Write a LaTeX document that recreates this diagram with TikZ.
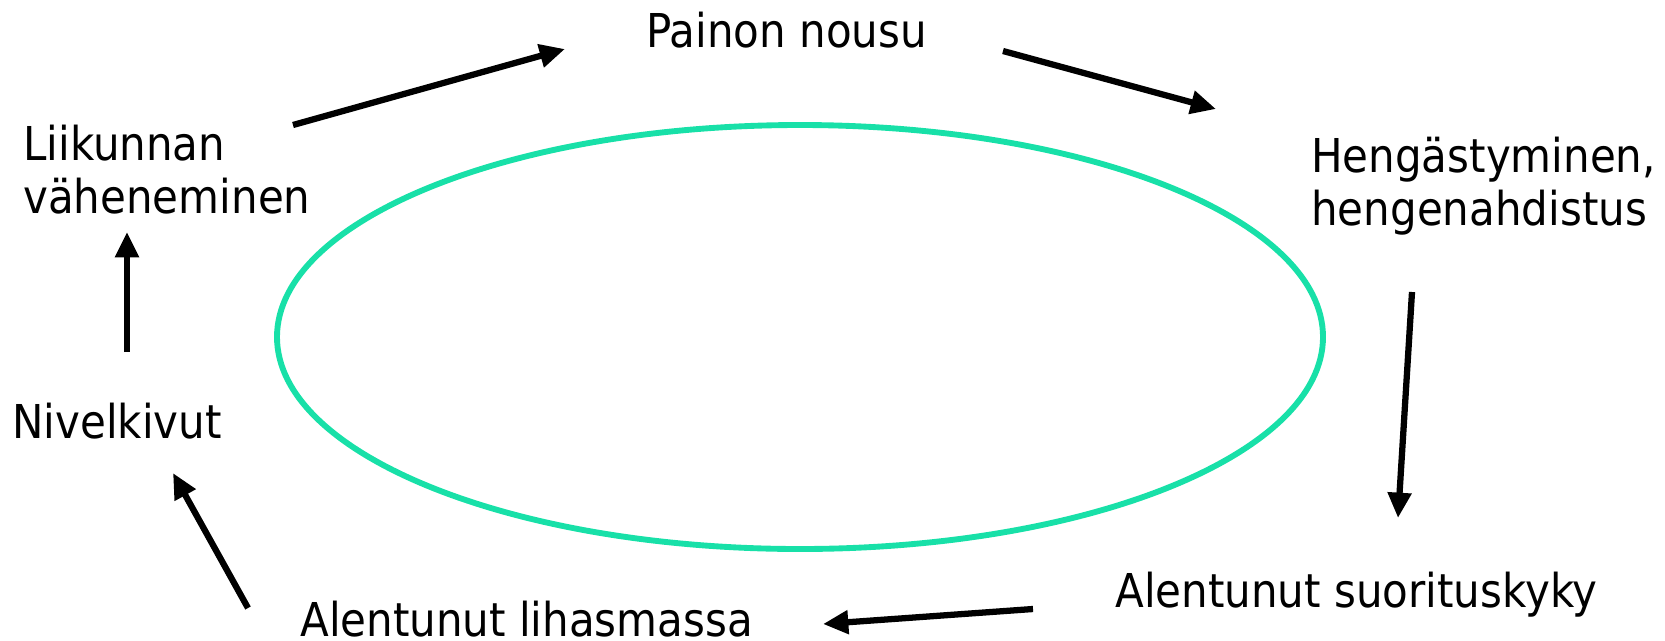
\documentclass[tikz,border=0pt]{standalone}
\usepackage{fontspec}
\setmainfont[FakeStretch=0.9]{DejaVu Sans}
\usetikzlibrary{arrows.meta}
\definecolor{ringgreen}{RGB}{24,224,168}
\tikzset{
  label/.style={anchor=base west, inner sep=0pt, align=left,
    font=\fontsize{35}{39.5}\selectfont},
  flow/.style={line width=4.7pt, -{Triangle[length=19pt,width=17pt]}},
  ring/.style={draw=ringgreen, line width=4.4pt}
}
\begin{document}
\begin{tikzpicture}[x=0.75pt, y=-0.75pt]
  \useasboundingbox (0,0) rectangle (1665,640);

  % central cycle ring
  \draw[ring] (800,337) ellipse [x radius=523, y radius=212];

  % stages of the cycle (multi-line labels are placed by their last line)
  \node[label] (paino) at (646,47) {Painon nousu};
  \node[label] (henga) at (1311,225) {Hengästyminen,\\hengenahdistus};
  \node[label] (suor)  at (1115,607) {Alentunut suorituskyky};
  \node[label] (lihas) at (300,636) {Alentunut lihasmassa};
  \node[label] (nivel) at (12,438) {Nivelkivut};
  \node[label] (liik)  at (23,213) {Liikunnan\\väheneminen};

  % arrow end points
  \coordinate (a1s) at (293,125);  \coordinate (a1e) at (565,49);
  \coordinate (a2s) at (1003,51);  \coordinate (a2e) at (1216,109);
  \coordinate (a3s) at (1412,292); \coordinate (a3e) at (1398,518);
  \coordinate (a4s) at (1033,609); \coordinate (a4e) at (823,624);
  \coordinate (a5s) at (248,608);  \coordinate (a5e) at (173,473);
  \coordinate (a6s) at (127,352);  \coordinate (a6e) at (127,232);

  \draw[flow] (a1s) -- (a1e);
  \draw[flow] (a2s) -- (a2e);
  \draw[flow] (a3s) -- (a3e);
  \draw[flow] (a4s) -- (a4e);
  \draw[flow] (a5s) -- (a5e);
  \draw[flow] (a6s) -- (a6e);
\end{tikzpicture}
\end{document}
